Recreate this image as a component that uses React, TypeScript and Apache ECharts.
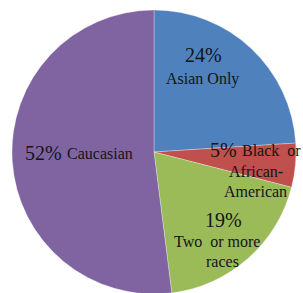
import React, { useEffect, useRef } from "react";
import * as echarts from "echarts";

const categories = ["Asian Only", "Black  or\nAfrican-\nAmerican", "Two  or more\nraces", "Caucasian"];
const values = [24, 5, 19, 52];
const colors = ["#4F81BD", "#C0504D", "#9BBB59", "#8064A2"];

// label layout: percent anchor [x, yCenter, align] and one anchor per name line
const pctPos: [number, number, string][] = [
  [203, 55, "center"],
  [210, 150, "left"],
  [223, 220, "center"],
  [25, 153, "left"],
];
const namePos: [number, number, string][][] = [
  [[203, 78, "center"]],
  [[242, 150, "left"], [256, 171, "center"], [256, 191, "center"]],
  [[217, 241, "center"], [222, 261, "center"]],
  [[67, 153, "left"]],
];

const PCT_SIZE = 20;
const NAME_SIZE = 16;
const TEXT_COLOR = "#141414";

function measure(text: string, font: string): number {
  const c = document.createElement("canvas").getContext("2d");
  if (!c) return text.length * 8;
  c.font = font;
  return c.measureText(text).width;
}

function makeText(text: string, size: number, pos: [number, number, string]) {
  const font = `${size}px 'Liberation Serif'`;
  const w = measure(text, font);
  const [x, y, align] = pos;
  const left = align === "center" ? x - w / 2 : x;
  return {
    type: "text",
    left: Math.round(left),
    top: Math.round(y - size / 2),
    z: 100,
    silent: true,
    style: { text, font, fill: TEXT_COLOR },
  };
}

export default function App() {
  const ref = useRef<HTMLDivElement>(null);
  useEffect(() => {
    const chart = echarts.init(ref.current!, null, { renderer: "svg" });
    const total = values.reduce((a, b) => a + b, 0);
    const texts: any[] = [];
    categories.forEach((cat, i) => {
      const pct = `${Math.round((values[i] / total) * 100)}%`;
      texts.push(makeText(pct, PCT_SIZE, pctPos[i]));
      cat.split("\n").forEach((line, j) => {
        texts.push(makeText(line, NAME_SIZE, namePos[i][j]));
      });
    });
    chart.setOption({
      animation: false,
      graphic: texts,
      series: [
        {
          type: "pie",
          center: [154, 152],
          radius: 142,
          startAngle: 90,
          clockwise: true,
          silent: true,
          data: categories.map((c, i) => ({
            name: c,
            value: values[i],
            itemStyle: { color: colors[i] },
          })),
          itemStyle: { borderWidth: 0.5, borderColor: "rgba(255,255,255,0.6)" },
          label: { show: false },
          labelLine: { show: false },
        },
      ],
    });
    return () => chart.dispose();
  }, []);
  return (
    <div
      ref={ref}
      style={{ position: "fixed", left: 0, top: 0, width: 303, height: 293, background: "#fff" }}
    />
  );
}
